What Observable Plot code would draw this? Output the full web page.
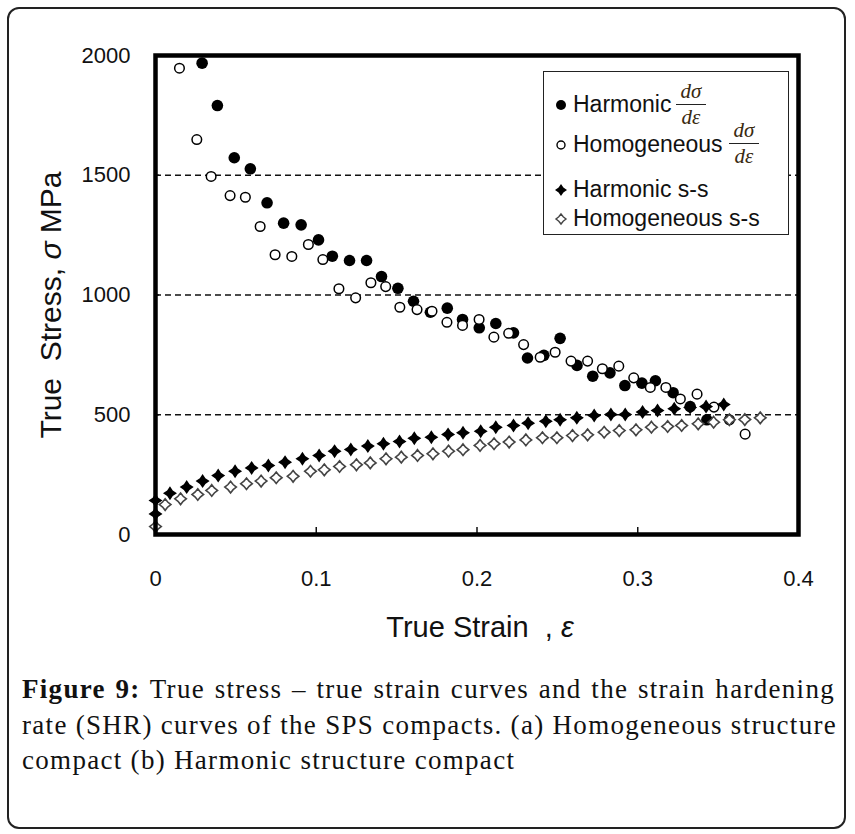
<!DOCTYPE html>
<html>
<head>
<meta charset="utf-8">
<script src="https://cdn.jsdelivr.net/npm/d3@7"></script>
<script src="https://cdn.jsdelivr.net/npm/@observablehq/plot@0.6"></script>
<style>
  html, body { margin: 0; padding: 0; background: #fff; }
  body { width: 855px; height: 834px; position: relative; overflow: hidden; font-family: "Liberation Sans", Arial, sans-serif; color: #111; }
  #outer { position: absolute; left: 7px; top: 7px; width: 835px; height: 818px; border: 2px solid #222; border-radius: 12px; }
  #chart { position: absolute; left: 0; top: 0; }
  #legend { position: absolute; left: 543px; top: 71px; width: 244px; height: 162px; border: 1.5px solid #222; background: #fff; }
  .row { position: absolute; left: 0; font-size: 23px; white-space: nowrap; line-height: 1; }
  .row svg { position: absolute; left: 10px; }
  .row .lab { position: absolute; left: 29px; }
  .frac { position: absolute; font-family: "Liberation Serif", "DejaVu Serif", serif; font-style: italic; font-size: 21px; text-align: center; width: 30px; line-height: 1; color: #3a2a10; }
  .frac .num { display: block; border-bottom: 1.6px solid #222; padding-bottom: 2px; }
  .frac .den { display: block; padding-top: 2px; }
  #caption { position: absolute; left: 22px; top: 672px; width: 813px; font-family: "Liberation Serif", "Times New Roman", serif; font-size: 27px; letter-spacing: 1.3px; line-height: 35.5px; color: #111; }
  #caption div { text-align: justify; text-align-last: justify; white-space: nowrap; }
  #caption div.last { text-align-last: left; }
</style>
</head>
<body>
<div id="outer"></div>
<div id="chart"></div>
<div id="legend"></div>
<div id="caption">
  <div><b>Figure 9:</b> True stress – true strain curves and the strain hardening</div>
  <div>rate (SHR) curves of the SPS compacts. (a) Homogeneous structure</div>
  <div class="last">compact (b) Harmonic structure compact</div>
</div>
<script>
// ---- Data ----
const xTicks = [0, 0.1, 0.2, 0.3, 0.4];
const yTicks = [0, 500, 1000, 1500, 2000];
const gridLines = [500, 1000, 1500];

const seriesNames = ["Harmonic dσ/dε", "Homogeneous dσ/dε", "Harmonic s-s", "Homogeneous s-s"];

const harmShrStrain = [0.029,0.0385,0.049,0.059,0.0694,0.0797,0.0906,0.1014,0.110,0.1207,0.1313,0.1406,0.1508,0.1605,0.171,0.1815,0.191,0.2014,0.2117,0.2227,0.2314,0.2416,0.2517,0.2622,0.272,0.2827,0.292,0.3026,0.311,0.322,0.3326,0.343];
const harmShrValue  = [1968,1791,1573,1527,1385,1300,1293,1230,1162,1144,1144,1077,1028,974,928,945,898,863,881,842,737,748,819,706,661,675,622,632,642,592,534,479];

const homShrStrain = [0.0149,0.0257,0.0346,0.0464,0.0559,0.0651,0.0744,0.0848,0.0951,0.1041,0.1141,0.1245,0.134,0.1432,0.152,0.1627,0.172,0.1813,0.191,0.2013,0.2105,0.2197,0.229,0.2393,0.2486,0.2585,0.2688,0.278,0.2882,0.2975,0.3078,0.3175,0.3265,0.3369,0.3474,0.357,0.3668];
const homShrValue  = [1947,1649,1495,1415,1408,1286,1168,1161,1211,1148,1026,988,1051,1035,949,939,932,886,873,898,824,840,793,740,761,724,724,692,703,654,614,614,566,586,532,479,419];

const harmSsStrain = [0,0,0.009,0.0194,0.0293,0.039,0.0495,0.0598,0.0702,0.0806,0.0914,0.1018,0.1114,0.1215,0.1321,0.1418,0.1518,0.161,0.1716,0.182,0.1913,0.2023,0.2117,0.2227,0.2318,0.2428,0.2517,0.2621,0.2729,0.2833,0.2922,0.303,0.3123,0.3227,0.3326,0.3425,0.3535];
const harmSsStress = [86,142,172,198,223,246,264,278,288,302,316,330,348,355,369,379,388,402,406,418,425,431,448,455,465,473,479,487,497,501,501,511,518,525,530,534,543];

const homSsStrain = [0,0.006,0.0156,0.0263,0.035,0.0467,0.0566,0.0657,0.0751,0.0856,0.0964,0.105,0.1145,0.125,0.1336,0.1434,0.1529,0.163,0.1726,0.1823,0.1913,0.2019,0.2106,0.22,0.2304,0.2407,0.2497,0.2594,0.2688,0.2791,0.2885,0.2989,0.3085,0.3186,0.3273,0.3376,0.3472,0.357,0.3666,0.3762];
const homSsStress = [33,125,149,167,184,198,212,223,237,243,264,270,284,291,299,316,323,330,337,348,354,372,379,386,395,404,404,413,416,427,434,437,448,451,455,462,469,479,480,487];

// ---- Build tables ----
const zip = (xs, ys) => xs.map((x, i) => ({x, y: ys[i]}));
const harmShr = zip(harmShrStrain, harmShrValue);
const homShr = zip(homShrStrain, homShrValue);
const harmSs = zip(harmSsStrain, harmSsStress);
const homSs = zip(homSsStrain, homSsStress);

// concave four-point diamond symbol
function star4(k) {
  return {
    draw(context, size) {
      const r = Math.sqrt(size / Math.PI);
      const a = r * k;
      context.moveTo(0, -r);
      context.lineTo(a, -a);
      context.lineTo(r, 0);
      context.lineTo(a, a);
      context.lineTo(0, r);
      context.lineTo(-a, a);
      context.lineTo(-r, 0);
      context.lineTo(-a, -a);
      context.closePath();
    }
  };
}
const filledDiamond = star4(0.4);
const openDiamond = star4(0.44);

const W = 855, H = 660;
const chart = Plot.plot({
  width: W,
  height: H,
  marginLeft: 155,
  marginRight: 57,
  marginTop: 55,
  marginBottom: 126,
  style: {fontFamily: "'Liberation Sans', Arial, sans-serif", fontSize: "22px", color: "#111", background: "transparent", overflow: "visible"},
  x: {domain: [0, 0.4]},
  y: {domain: [0, 2000]},
  marks: [
    Plot.ruleY(gridLines, {stroke: "#111", strokeWidth: 1.6, strokeDasharray: "6,4"}),
    Plot.axisY({ticks: yTicks, tickSize: 0, tickPadding: 25, tickFormat: d => String(d), label: null, fontSize: 22}),
    Plot.axisY({ticks: gridLines, tickSize: 4, dx: 4, text: null, label: null, stroke: "#111", strokeWidth: 1.5}),
    Plot.axisX({ticks: xTicks, tickSize: 0, tickPadding: 36, tickFormat: d => d === 0 ? "0" : d.toFixed(1), label: null, fontSize: 22}),
    Plot.axisX({ticks: [0.1, 0.2, 0.3], tickSize: 7, dy: -7, text: null, label: null, stroke: "#111", strokeWidth: 1.5}),
    Plot.dot(harmShr, {x: "x", y: "y", r: 5.8, fill: "#000", stroke: "none"}),
    Plot.dot(homShr, {x: "x", y: "y", r: 4.8, fill: "#fff", stroke: "#000", strokeWidth: 1.5}),
    Plot.dot(harmSs, {x: "x", y: "y", r: 7, symbol: filledDiamond, fill: "#000", stroke: "none"}),
    Plot.dot(homSs, {x: "x", y: "y", r: 5.8, symbol: openDiamond, fill: "#fff", stroke: "#444", strokeWidth: 1.6}),
    Plot.frame({stroke: "#000", strokeWidth: 4.5})
  ]
});
document.getElementById("chart").appendChild(chart);

// axis titles
const svg = d3.select(chart);
const xt = svg.append("text")
  .attr("x", 480).attr("y", 637)
  .attr("text-anchor", "middle")
  .attr("font-size", 29)
  .attr("fill", "#111")
  .attr("xml:space", "preserve");
xt.append("tspan").text("True Strain  , ");
xt.append("tspan").attr("font-style", "italic").text("ε");

const yt = svg.append("text")
  .attr("transform", "translate(61,305) rotate(-90)")
  .attr("text-anchor", "middle")
  .attr("font-size", 30)
  .attr("fill", "#111")
  .attr("xml:space", "preserve");
yt.append("tspan").text("True  Stress, ");
yt.append("tspan").attr("font-style", "italic").text("σ");
yt.append("tspan").text(" MPa");

// legend
const legend = document.getElementById("legend");
const legendRows = [
  {name: "Harmonic", top: 21, frac: {left: 132, top: 9}, icon: "fc"},
  {name: "Homogeneous", top: 61, frac: {left: 185, top: 48}, icon: "oc"},
  {name: "Harmonic s-s", top: 106, icon: "fd"},
  {name: "Homogeneous s-s", top: 135, icon: "od"}
];
function iconSvg(kind) {
  const s = d3.create("svg").attr("width", 14).attr("height", 14).attr("viewBox", "-7 -7 14 14");
  if (kind === "fc") s.append("circle").attr("r", 5).attr("fill", "#000");
  if (kind === "oc") s.append("circle").attr("r", 4).attr("fill", "#fff").attr("stroke", "#000").attr("stroke-width", 1.4);
  if (kind === "fd") s.append("path").attr("d", d3.symbol(filledDiamond, Math.PI * 36)()).attr("fill", "#000");
  if (kind === "od") s.append("path").attr("d", d3.symbol(openDiamond, Math.PI * 25)()).attr("fill", "#fff").attr("stroke", "#444").attr("stroke-width", 1.4);
  return s.node();
}
legendRows.forEach(r => {
  const row = document.createElement("div");
  row.className = "row";
  row.style.top = r.top + "px";
  row.style.width = "244px";
  row.style.height = "24px";
  const ic = iconSvg(r.icon);
  ic.style.top = "5px";
  row.appendChild(ic);
  const lab = document.createElement("span");
  lab.className = "lab";
  lab.textContent = r.name;
  row.appendChild(lab);
  legend.appendChild(row);
  if (r.frac) {
    const f = document.createElement("div");
    f.className = "frac";
    f.style.left = r.frac.left + "px";
    f.style.top = r.frac.top + "px";
    f.innerHTML = '<span class="num">dσ</span><span class="den">dε</span>';
    legend.appendChild(f);
  }
});
</script>
</body>
</html>
